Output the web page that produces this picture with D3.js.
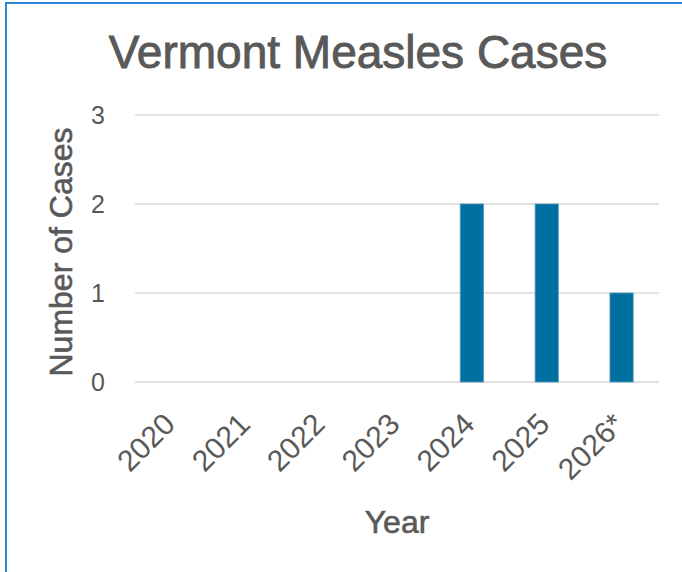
<!DOCTYPE html>
<html>
<head>
<meta charset="utf-8">
<script src="https://cdn.jsdelivr.net/npm/d3@7"></script>
<style>
	body { margin: 0; background: #fff; }
	svg text { font-family: "Liberation Sans", Arial, sans-serif; fill: #595959; stroke: #595959; stroke-width: 0.5px; }
</style>
</head>
<body>
<div class="chart"></div>
<script>
// chart data
var years = ["2020", "2021", "2022", "2023", "2024", "2025", "2026*"];
var cases = [0, 0, 0, 0, 2, 2, 1];
var yTicks = [0, 1, 2, 3];

var width = 682;
var height = 572;
var margin = {left: 135, right: 23, top: 115, bottom: 190};

//make a container for svg
var svgContainer = d3.select("div.chart")
	.append("svg")
	.attr("width", width)
	.attr("height", height);

// blue frame round the chart (runs off right and bottom)
svgContainer.append("rect")
	.attr("x", 6)
	.attr("y", 3)
	.attr("width", width + 20)
	.attr("height", height + 20)
	.attr("fill", "none")
	.attr("stroke", "#2a86d8")
	.attr("stroke-width", 2);

var x = d3.scaleBand()
	.domain(years)
	.range([margin.left, width - margin.right])
	.paddingInner(0.69)
	.paddingOuter(0.345);

var y = d3.scaleLinear()
	.domain([0, 3])
	.range([height - margin.bottom, margin.top]);

// gridlines
svgContainer.selectAll("line.grid")
	.data(yTicks)
	.enter()
	.append("line")
	.attr("class", "grid")
	.attr("x1", margin.left)
	.attr("x2", width - margin.right)
	.attr("y1", function(d) { return y(d); })
	.attr("y2", function(d) { return y(d); })
	.attr("stroke", "#d9d9d9")
	.attr("stroke-width", 1.5);

// y tick labels
svgContainer.selectAll("text.ytick")
	.data(yTicks)
	.enter()
	.append("text")
	.attr("class", "ytick")
	.attr("x", 105)
	.attr("y", function(d) { return y(d); })
	.attr("dy", "0.36em")
	.attr("text-anchor", "end")
	.style("font-size", "25px")
	.style("stroke-width", "0px")
	.text(function(d) { return d; });

// bars
svgContainer.selectAll("rect.bar")
	.data(years)
	.enter()
	.append("rect")
	.attr("class", "bar")
	.attr("x", function(d) { return x(d); })
	.attr("width", x.bandwidth())
	.attr("y", function(d, i) { return y(cases[i]); })
	.attr("height", function(d, i) { return y(0) - y(cases[i]); })
	.attr("fill", "#0070a0")
	.attr("stroke", "#4d97bf")
	.attr("stroke-width", 0.8);

// x tick labels, turned 45 degrees
svgContainer.selectAll("text.xtick")
	.data(years)
	.enter()
	.append("text")
	.attr("class", "xtick")
	.attr("text-anchor", "end")
	.attr("transform", function(d) {
		return "translate(" + (x(d) + x.bandwidth() / 2 + 4.5) + "," + (y(0) + 44) + ") rotate(-45)";
	})
	.style("font-size", "30px")
	.style("stroke-width", "0px")
	.text(function(d) { return d; });

// title
svgContainer.append("text")
	.attr("x", 358)
	.attr("y", 68)
	.attr("text-anchor", "middle")
	.style("font-size", "46px")
	.style("stroke-width", "0.9px")
	.text("Vermont Measles Cases");

// axis titles
svgContainer.append("text")
	.attr("transform", "translate(72,252) rotate(-90)")
	.attr("text-anchor", "middle")
	.style("font-size", "32px")
	.style("stroke-width", "0.6px")
	.text("Number of Cases");

svgContainer.append("text")
	.attr("x", 397)
	.attr("y", 533)
	.attr("text-anchor", "middle")
	.style("font-size", "32px")
	.style("stroke-width", "0.6px")
	.text("Year");
</script>
</body>
</html>
